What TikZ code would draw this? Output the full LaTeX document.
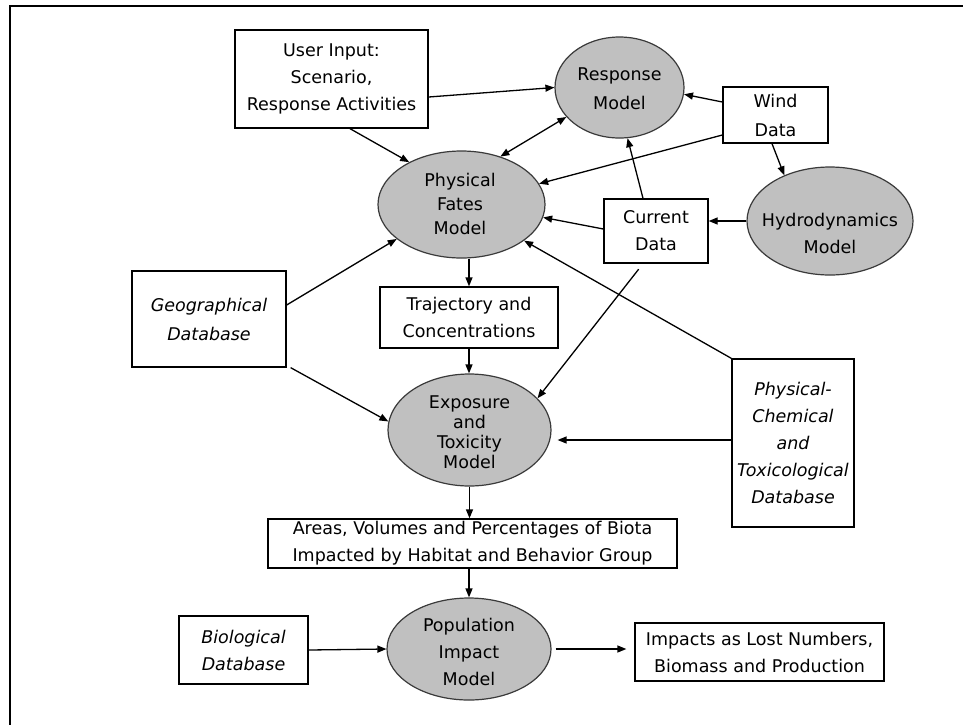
\documentclass[tikz,border=0pt]{standalone}
\usepackage{fontspec}
\setmainfont{DejaVu Sans}
\usetikzlibrary{arrows.meta,shapes.geometric,calc}
\definecolor{ellfill}{HTML}{C0C0C0}
\definecolor{ellline}{HTML}{3A3A3A}
\begin{document}
\begin{tikzpicture}[x=1pt,y=-1pt,
  font=\fontsize{17.5}{27}\selectfont,
  box/.style={draw=black, line width=1.3pt, rectangle, inner sep=0pt, align=center, fill=white},
  ell/.style={draw=ellline, line width=1.2pt, ellipse, fill=ellfill, inner sep=0pt},
  txt/.style={inner sep=0pt, align=center},
  arr/.style={line width=1.3pt, -{Triangle[length=9pt,width=7pt]}},
  darr/.style={line width=1.3pt, {Triangle[length=9pt,width=7pt]}-{Triangle[length=9pt,width=7pt]}},
  f29/.style={font=\fontsize{17.5}{29}\selectfont},
  it29/.style={font=\fontsize{17.5}{29}\selectfont\itshape},
  it27/.style={font=\fontsize{17.5}{27}\selectfont\itshape},
]
\useasboundingbox (0,0) rectangle (963,724);
\fill[white] (0,0) rectangle (963,724);
\clip (0,0) rectangle (963,724);
\draw[line width=2pt] (9.5,740) -- (9.5,5.5) -- (980,5.5);

% nodes
\node[box, minimum width=193pt, minimum height=98pt] (ui) at (331.5,79) {User Input:\\Scenario,\\Response Activities};

\node[ell, minimum width=129pt, minimum height=101pt] (rm) at (619.5,87.5) {};
\node[txt, f29] (rmt) at (619.5,88.5) {Response\\Model};

\node[box, f29, minimum width=105pt, minimum height=56pt] (wd) at (775.5,115) {Wind\\Data};

\node[ell, minimum width=167pt, minimum height=107pt] (pf) at (461.5,204.5) {};
\node[txt, font=\fontsize{17.5}{24}\selectfont] (pft) at (460,204) {Physical\\Fates\\Model};

\node[ell, minimum width=166pt, minimum height=108pt] (hy) at (830,221) {};
\node[txt] (hyt) at (830,233) {Hydrodynamics\\Model};

\node[box, minimum width=104pt, minimum height=64pt] (cd) at (656,231) {Current\\Data};

\node[box, it29, minimum width=154pt, minimum height=96pt] (gd) at (209,319) {Geographical\\Database};

\node[box, minimum width=178pt, minimum height=61pt] (tc) at (469,317.5) {Trajectory and\\Concentrations};

\node[ell, minimum width=163pt, minimum height=112pt] (ex) at (469.5,430) {};
\node[txt, font=\fontsize{17.5}{20}\selectfont] (ext) at (469.5,432) {Exposure\\and\\Toxicity\\Model};

\node[box, it27, minimum width=122pt, minimum height=168pt] (pc) at (793,443) {Physical-\\Chemical\\and\\Toxicological\\Database};

\node[box, minimum width=409pt, minimum height=49pt] (ar) at (472.5,543.5) {Areas, Volumes and Percentages of Biota\\Impacted by Habitat and Behavior Group};

\node[ell, minimum width=164pt, minimum height=102pt] (pp) at (469,649) {};
\node[txt] (ppt) at (469,652) {Population\\Impact\\Model};

\node[box, it27, minimum width=129pt, minimum height=68pt] (bd) at (243.5,650) {Biological\\Database};

\node[box, minimum width=249pt, minimum height=58pt] (im) at (759.5,652) {Impacts as Lost Numbers,\\Biomass and Production};

\coordinate (pcw) at ([yshift=3pt]pc.west);

% connectors
\draw[arr] ([yshift=-18pt]ui.east) -- (rm.west);
\draw[arr] ([xshift=18.5pt]ui.south) -- (pf.141);
\draw[darr] (pf.51) -- (rm.209);
\draw[arr] ([yshift=13pt]wd.west) -- (rm.-6.5);
\draw[arr] ([yshift=-20pt]wd.west) -- (pf.15.6);
\draw[arr] ([xshift=-3.5pt]wd.south) -- (hy.135.6);
\draw[arr] ([xshift=-13pt]cd.north) -- (rm.-81);
\draw[arr] ([yshift=2pt]cd.west) -- (pf.-9);
\draw[arr] (hy.west) -- (hy.west -| cd.east);
\draw[arr, shorten <=7pt] ([xshift=-13pt]cd.south) -- (ex.25);
\draw[arr] (pc.north west) -- (pf.-30.6);
\draw[arr, shorten >=6pt] (pcw) -- (pcw -| ex.east);
\draw[arr] (pf.south -| tc.north) -- (tc.north);
\draw[arr] (tc.south) -- (tc.south |- ex.north);
\draw[arr] ([yshift=14pt]gd.east) -- (pf.208.5);
\draw[arr] ([xshift=4pt]gd.south east) -- (ex.174);
\draw[arr] (ex.south) -- (ex.south |- ar.north);
\draw[arr] (pp.north |- ar.south) -- (pp.north);
\draw[arr] (bd.east) -- (pp.west);
\draw[arr, shorten <=4pt, shorten >=8pt] (pp.east) -- (pp.east -| im.west);
\end{tikzpicture}
\end{document}
